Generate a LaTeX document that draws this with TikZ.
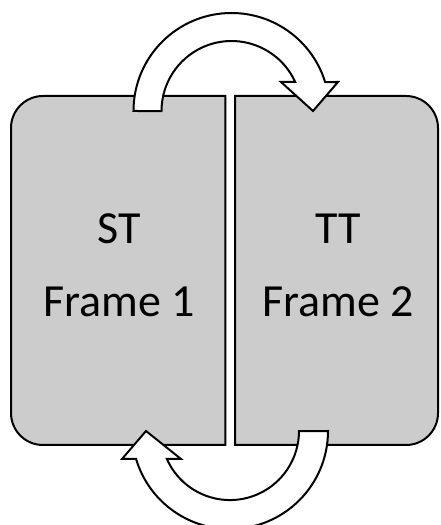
\documentclass[tikz,border=0pt]{standalone}
\usepackage{fontspec}
\setmainfont{Carlito}
\begin{document}
\begin{tikzpicture}[x=1pt,y=1pt,
  panel/.style={draw=black, line width=2pt, fill=black!20},
  bendarrow/.style={draw=black, line width=2pt, fill=white, line join=miter},
  label/.style={font=\fontsize{46}{46}\selectfont, anchor=base, inner sep=0pt}]
\useasboundingbox (0,0) rectangle (440,525);

% two frames, rounded on their outer corners only
\draw[panel] (225.3,80) -- (43,80) arc[start angle=270, end angle=180, radius=32]
  -- (11,397) arc[start angle=180, end angle=90, radius=32] -- (225.3,429) -- cycle;
\draw[panel] (235,80) -- (406,80) arc[start angle=270, end angle=360, radius=32]
  -- (438,397) arc[start angle=0, end angle=90, radius=32] -- (235,429) -- cycle;

% frame labels
\node[label] (st) at (119.5,281) {ST};
\node[label] (f1) at (119.5,208) {Frame 1};
\node[label] (tt) at (338,281) {TT};
\node[label] (f2) at (338.5,208) {Frame 2};

% curved arrow over the top, left to right
\draw[bendarrow] (133.5,414) arc[start angle=180, end angle=17.2, radius=98]
  -- (338,443) -- (313,414) -- (281,443) -- (295.2,443)
  arc[start angle=24.5, end angle=180, radius=70] -- cycle;

% curved arrow under the bottom, right to left
\draw[bendarrow] (328,94) arc[start angle=0, end angle=-163.4, radius=98]
  -- (122,66) -- (146,94) -- (181,66) -- (166.9,66)
  arc[start angle=-156.1, end angle=0, radius=69] -- cycle;
\end{tikzpicture}
\end{document}
